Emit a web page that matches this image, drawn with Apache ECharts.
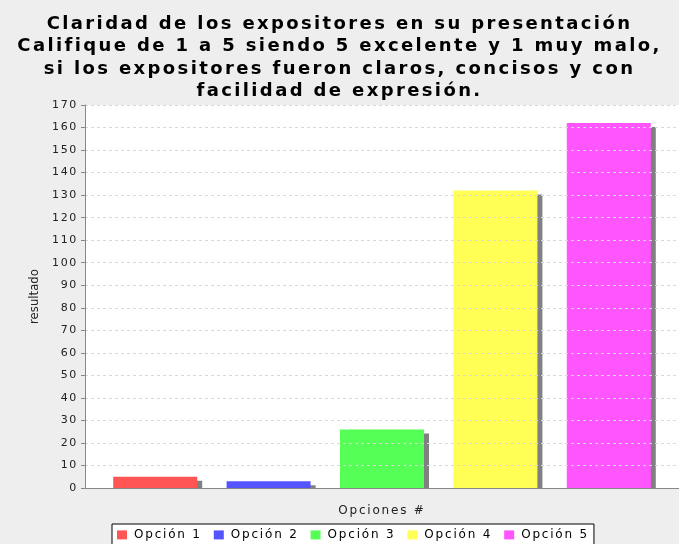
<!DOCTYPE html>
<html><head><meta charset="utf-8">
<script src="https://cdn.jsdelivr.net/npm/echarts@6/dist/echarts.min.js"></script>
<style>html,body{margin:0;padding:0;background:#EEEEEE;}#c{width:679px;height:544px;}</style>
</head><body><div id="c"></div>
<script>
var titleText = 'Claridad de los expositores en su presentación\nCalifique de 1 a 5 siendo 5 excelente y 1 muy malo,\nsi los expositores fueron claros, concisos y con\nfacilidad de expresión.';
var categories = [''];
var seriesNames = ['Opción 1', 'Opción 2', 'Opción 3', 'Opción 4', 'Opción 5'];
var seriesValues = [5, 3, 26, 132, 162];
var seriesColors = ['#FF5555', '#5555FF', '#55FF55', '#FFFF55', '#FF55FF'];
var yMin = 0, yMax = 170, yStep = 10;

// wider letter spacing to imitate the original (Java) font metrics
(function () {
  var P = window.CanvasRenderingContext2D && CanvasRenderingContext2D.prototype;
  if (!P || !('letterSpacing' in P)) return;
  function apply(ctx) {
    var f = ctx.font || '';
    var m = /(\d+(?:\.\d+)?)px/.exec(f);
    var s = 0;
    if (m && f.indexOf('Condensed') < 0 && f.indexOf('Narrow') < 0) {
      var px = parseFloat(m[1]);
      s = px * (px >= 16 ? 0.132 : 0.15);
    }
    ctx.letterSpacing = s.toFixed(2) + 'px';
  }
  ['fillText', 'strokeText', 'measureText'].forEach(function (k) {
    var o = P[k];
    P[k] = function () { apply(this); return o.apply(this, arguments); };
  });
})();

var FONT = '"DejaVu Sans", sans-serif';
var chart = echarts.init(document.getElementById('c'), null, {renderer: 'canvas'});
var series = seriesNames.map(function (n, i) {
  return {
    name: n, type: 'bar', data: [seriesValues[i]],
    barWidth: 84, barGap: '35%',
    itemStyle: {color: seriesColors[i], shadowColor: '#808080', shadowBlur: 0, shadowOffsetX: 5, shadowOffsetY: 4}
  };
});
chart.setOption({
  backgroundColor: '#EEEEEE',
  animation: false,
  color: seriesColors,
  title: {
    text: titleText, left: 'center', top: 8,
    textStyle: {fontFamily: FONT, fontSize: 18, fontWeight: 'bold', color: '#000', lineHeight: 22.5}
  },
  grid: {left: 85, top: 105, width: 595, bottom: 56, show: true, backgroundColor: '#FFFFFF', borderWidth: 0},
  legend: {
    data: seriesNames, left: 112, top: 524, orient: 'horizontal',
    icon: 'rect', itemWidth: 10, itemHeight: 9, itemGap: 12,
    borderColor: '#000', borderWidth: 1, padding: [4, 5, 8, 5], backgroundColor: '#FFFFFF', borderRadius: 0,
    textStyle: {fontFamily: FONT, fontSize: 12, color: '#000', padding: [0, 0, 0, 2]}
  },
  xAxis: {
    type: 'category', data: categories, z: 10,
    name: 'Opciones #', nameLocation: 'middle', nameGap: 16,
    nameTextStyle: {fontFamily: FONT, fontSize: 12, color: '#222'},
    axisLine: {lineStyle: {color: '#888888'}},
    axisTick: {alignWithLabel: true, length: 3, lineStyle: {color: '#888888'}},
    axisLabel: {show: false}
  },
  yAxis: {
    type: 'value', min: yMin, max: yMax, interval: yStep, z: 10,
    name: 'resultado', nameLocation: 'middle', nameGap: 43, nameRotate: 90,
    nameTextStyle: {fontFamily: '"DejaVu Sans Condensed", "Liberation Sans Narrow", sans-serif', fontSize: 13, color: '#222'},
    axisLine: {show: true, lineStyle: {color: '#888888'}},
    axisTick: {show: true, length: 4, lineStyle: {color: '#888888'}},
    axisLabel: {fontFamily: FONT, fontSize: 11, color: '#222', margin: 7},
    splitLine: {lineStyle: {color: '#D8D8D8', type: [3, 3]}}
  },
  graphic: [{type: 'rect', z: 5, shape: {x: 85, y: 489, width: 600, height: 8}, style: {fill: '#EEEEEE'}}],
  series: series
});
</script></body></html>
